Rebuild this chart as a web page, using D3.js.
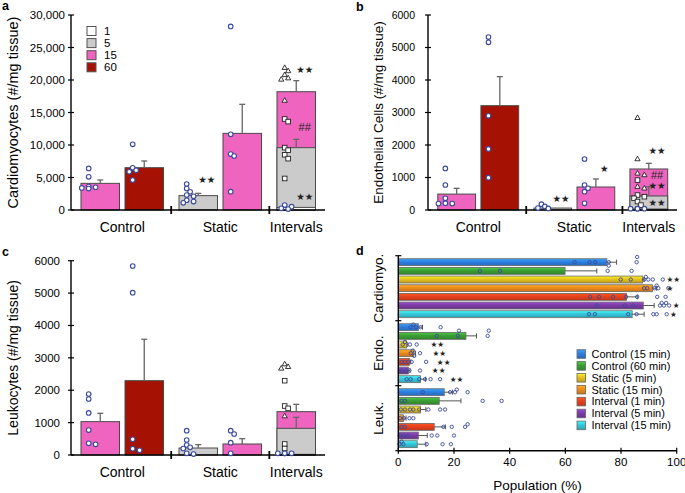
<!DOCTYPE html>
<html><head><meta charset="utf-8">
<script src="https://cdn.jsdelivr.net/npm/d3@7"></script>
<style>body{margin:0;background:#fff}svg{display:block}</style>
</head><body><svg id="chart" width="685" height="493"></svg>
<script>
// ---------------- DATA ----------------
const groups = ["Control", "Static", "Intervals"];
const durationLabels = ["1", "5", "15", "60"];
const barGroup = ["Control", "Control", "Static", "Static", "Intervals", "Intervals", "Intervals"];
const barDuration = ["15", "60", "5", "15", "15", "5", "1"];

// panel a: cardiomyocytes
const cmTicks = [0, 5000, 10000, 15000, 20000, 25000, 30000];
const cmMean = [4100, 6510, 2210, 11790, 18200, 9590, 400];
const cmUpper = [4620, 7540, 2560, 16260, 19900, 10870, 400];
const cmPoints = [
  [6400, 5100, 3600, 3400, 3300, 3500],
  [10100, 6500, 6100, 5900, 4600],
  [4000, 3300, 2800, 2300, 2100, 1500, 1100, 1300],
  [28250, 11640, 8610, 8310, 2820],
  [21900, 21400, 20800, 20300, 20100, 16850],
  [14000, 13600, 9600, 9200, 8500, 7900, 4850],
  [770, 510, 260, 150]
];
const cmMarkBar = [2, 4, 4, 4];
const cmMarkText = ["★★", "★★", "##", "★★"];
const cmMarkValue = [4700, 21600, 12800, 2050];

// panel b: endothelial cells
const ecTicks = [0, 1000, 2000, 3000, 4000, 5000, 6000];
const ecMean = [490, 3210, 60, 708, 1262, 431, 30];
const ecUpper = [667, 4103, 60, 954, 1436, 718, 30];
const ecPoints = [
  [1280, 770, 360, 210, 200, 200],
  [5320, 5160, 2900, 1880, 995],
  [180, 110, 60, 50],
  [1570, 770, 670, 565, 205],
  [2840, 1570, 1130, 1080, 720, 670],
  [920, 460, 410, 360, 260, 150],
  [40, 40, 40, 40]
];
const ecMarkBar = [2, 3, 4, 4, 4, 4];
const ecMarkText = ["★★", "★", "★★", "##", "★★", "★★"];
const ecMarkValue = [360, 1280, 1815, 1077, 738, 215];

// panel c: leukocytes
const lkTicks = [0, 1000, 2000, 3000, 4000, 5000, 6000];
const lkMean = [1030, 2295, 216, 340, 1338, 823, 20];
const lkUpper = [1287, 3573, 320, 504, 1565, 1163, 20];
const lkPoints = [
  [1880, 1730, 1300, 770, 360, 330],
  [5836, 5013, 484, 195, 144],
  [751, 463, 309, 237, 200, 51, 30],
  [751, 648, 380, 51],
  [2810, 2727, 2676, 1204],
  [2295, 1513, 1440, 340, 200],
  [51, 51, 51, 51]
];

// panel d: population (%)
const popGroups = ["Cardiomyo.", "Endo.", "Leuk."];
const popSeries = ["Control (15 min)", "Control (60 min)", "Static (5 min)", "Static (15 min)",
  "Interval (1 min)", "Interval (5 min)", "Interval (15 min)"];
const popColors = ["#2d7fdf", "#3b9f34", "#e6c01d", "#ef8a1b", "#e6421b", "#7b3ca6", "#35c6da"];
const popTicks = [0, 20, 40, 60, 80, 100];
const cardioMean = [74.9, 59.9, 87.8, 91.3, 82.0, 88.0, 84.0];
const cardioUpper = [78.4, 71.3, 88.3, 92.8, 86.0, 91.9, 88.3];
const cardioPoints = [
  [63.3, 68.7, 70.7, 75.6, 85.6, 85.8],
  [29.3, 36.6, 75.2, 75.6, 83.8],
  [79.9, 83.5, 88.3, 88.9, 89.8, 91.4, 95.0],
  [88.3, 89.4, 92.0, 92.8, 93.4, 97.0],
  [68.9, 72.1, 77.2, 81.8, 85.8, 93.0, 96.0],
  [71.3, 81.4, 84.4, 94.0, 94.6, 95.4, 96.2, 97.3],
  [68.5, 70.6, 82.6, 85.6, 91.6, 92.8, 96.4]
];
const endoMean = [7.2, 24.3, 3.0, 5.6, 4.0, 3.6, 8.0];
const endoUpper = [8.7, 28.1, 3.4, 6.2, 4.5, 4.2, 9.8];
const endoPoints = [
  [4.4, 5.4, 6.4, 8.0, 15.2],
  [13.8, 21.4, 21.8, 32.1, 32.5],
  [1.6, 2.4, 4.2, 6.6],
  [4.5, 5.2, 5.7, 7.8],
  [1.2, 2.4, 3.6, 4.8, 10.0],
  [1.2, 2.8, 4.0, 7.8],
  [3.0, 4.4, 7.5, 9.6, 11.6, 15.0]
];
const leukMean = [16.5, 14.7, 8.0, 1.8, 12.9, 7.2, 6.8];
const leukUpper = [19.5, 22.5, 9.9, 2.8, 16.9, 10.4, 9.9];
const leukPoints = [
  [8.8, 18.6, 20.4, 21.0, 24.9],
  [1.2, 2.4, 30.3, 37.1],
  [0.9, 2.4, 4.2, 5.4, 7.5, 10.8, 15.0, 16.8],
  [0.6, 2.0, 4.0, 5.4],
  [1.2, 2.4, 16.2, 19.2, 24.0, 24.9],
  [0.6, 2.0, 3.5, 12.0, 14.0, 20.0],
  [0.4, 1.2, 1.8, 10.2, 15.9, 18.9]
];
const popMarkGroup = ["Cardiomyo.", "Cardiomyo.", "Cardiomyo.", "Cardiomyo.", "Endo.", "Endo.", "Endo.", "Endo.", "Endo."];
const popMarkSeries = [2, 3, 5, 6, 2, 3, 4, 5, 6];
const popMarkText = ["★★", "★", "★", "★", "★★", "★★", "★★", "★★", "★★"];
const popMarkValue = [98.8, 97.6, 99.8, 98.8, 14.0, 14.7, 16.3, 14.5, 20.9];

// ---------------- DRAWING ----------------
const FONT = '"Liberation Sans", Arial, Helvetica, sans-serif';
const STARFONT = '"DejaVu Sans", sans-serif';
const durationColor = {"1": "#ffffff", "5": "#cbcbcb", "15": "#ee64bf", "60": "#a51204"};
const DOT = "#3a4a9c";
const svg = d3.select("#chart");

function panelLabel(t, x, y) {
  svg.append("text").attr("x", x).attr("y", y).text(t)
    .attr("font-family", FONT).attr("font-weight", "bold").attr("font-size", 12.5);
}

function drawBarPanel(c) {
  const g = svg.append("g");
  const y = d3.scaleLinear().domain([0, c.ticks[c.ticks.length - 1]]).range([c.bottom, c.top]);
  const x = d3.scaleLinear().domain([-0.227, 5.545]).range([c.left, c.right]);
  const bw = x(0.875) - x(0);
  const slotKeys = barGroup.map((gr, i) => gr === "Intervals" ? gr : gr + "|" + barDuration[i]);
  const uniq = [...new Set(slotKeys)];
  const kOf = i => uniq.indexOf(slotKeys[i]) + groups.indexOf(barGroup[i]) * 0.227;

  // bars
  barGroup.forEach((gr, i) => {
    g.append("rect").attr("x", x(kOf(i))).attr("y", y(c.mean[i]))
      .attr("width", bw).attr("height", y(0) - y(c.mean[i]))
      .attr("fill", durationColor[barDuration[i]]).attr("stroke", "#4a4a4a").attr("stroke-width", 1);
  });
  // error bars
  barGroup.forEach((gr, i) => {
    if (c.upper[i] <= c.mean[i]) return;
    const cx = x(kOf(i)) + bw / 2;
    g.append("line").attr("x1", cx).attr("x2", cx).attr("y1", y(c.mean[i])).attr("y2", y(c.upper[i]))
      .attr("stroke", "#666").attr("stroke-width", 1.3);
    g.append("line").attr("x1", cx - 3).attr("x2", cx + 3).attr("y1", y(c.upper[i])).attr("y2", y(c.upper[i]))
      .attr("stroke", "#666").attr("stroke-width", 1.3);
  });
  // axes
  g.append("line").attr("x1", c.left).attr("x2", c.left).attr("y1", c.top).attr("y2", c.bottom)
    .attr("stroke", "#000").attr("stroke-width", 1.4);
  c.ticks.forEach(t => {
    g.append("line").attr("x1", c.left - 3).attr("x2", c.left + 3).attr("y1", y(t)).attr("y2", y(t))
      .attr("stroke", "#000").attr("stroke-width", 1.2);
    g.append("text").attr("x", c.left - c.tickGap).attr("y", y(t)).attr("dy", "0.35em")
      .attr("text-anchor", "end").attr("font-family", FONT).attr("font-size", c.tickSize)
      .text(c.fmt(t));
  });
  g.append("line").attr("x1", c.left).attr("x2", c.right).attr("y1", c.bottom).attr("y2", c.bottom)
    .attr("stroke", "#000").attr("stroke-width", 1.4);
  [2.05, 4.28].forEach(k => {
    g.append("line").attr("x1", x(k)).attr("x2", x(k)).attr("y1", c.bottom - 4).attr("y2", c.bottom + 4)
      .attr("stroke", "#000").attr("stroke-width", 1.8);
  });
  groups.forEach(gr => {
    const idx = barGroup.map((b, i) => b === gr ? i : -1).filter(i => i >= 0);
    const k0 = d3.min(idx, kOf), k1 = d3.max(idx, kOf) + 0.875;
    g.append("text").attr("x", (x(k0) + x(k1)) / 2).attr("y", c.bottom + 22)
      .attr("text-anchor", "middle").attr("font-family", FONT).attr("font-size", 14).text(gr);
  });
  // y title
  g.append("text").attr("transform", `translate(${c.titleX},${(c.top + c.bottom) / 2}) rotate(-90)`)
    .attr("text-anchor", "middle").attr("dy", "0.35em").attr("font-family", FONT)
    .attr("font-size", c.titleSize).text(c.title);

  // points (simple beeswarm per slot)
  const r = 2.3;
  uniq.forEach(sk => {
    const idx = slotKeys.map((s, i) => s === sk ? i : -1).filter(i => i >= 0);
    const baseX = x(d3.min(idx, kOf)) + bw * 0.2;
    const placed = [];
    const pts = [];
    idx.forEach(i => c.points[i].forEach(v => pts.push({v, i})));
    pts.sort((a, b) => b.v - a.v);
    pts.forEach(p => {
      const cy = y(p.v);
      const offs = [0, 1, -1, 2, -2, 3, -3];
      let cx = baseX;
      for (const o of offs) {
        const tx = baseX + o * r * 1.5;
        if (placed.every(q => Math.hypot(q.x - tx, q.y - cy) >= r * 1.7)) { cx = tx; break; }
      }
      placed.push({x: cx, y: cy});
      const shape = barGroup[p.i] === "Intervals" ? barDuration[p.i] : "c";
      if (shape === "15") {
        g.append("path").attr("d", `M${cx},${cy - 2.8}L${cx + 2.6},${cy + 1.8}L${cx - 2.6},${cy + 1.8}Z`)
          .attr("fill", "#fff").attr("stroke", "#222").attr("stroke-width", 0.9);
      } else if (shape === "5") {
        g.append("rect").attr("x", cx - 2.3).attr("y", cy - 2.3).attr("width", 4.6).attr("height", 4.6)
          .attr("fill", "#fff").attr("stroke", "#222").attr("stroke-width", 0.9);
      } else {
        g.append("circle").attr("cx", cx).attr("cy", cy).attr("r", r)
          .attr("fill", "#fff").attr("stroke", DOT).attr("stroke-width", 1.1);
      }
    });
  });
  // significance marks
  (c.markBar || []).forEach((b, j) => {
    const isHash = c.markText[j] === "##";
    g.append("text").attr("x", x(kOf(b)) + bw * 0.72).attr("y", y(c.markValue[j])).attr("dy", "0.35em")
      .attr("text-anchor", "middle").attr("font-family", isHash ? FONT : STARFONT)
      .attr("font-size", isHash ? 11 : 9.5).attr("fill", "#222").text(c.markText[j]);
  });
  // legend
  if (c.legend) {
    durationLabels.forEach((d, j) => {
      const cy = 31 + j * 12.1;
      g.append("rect").attr("x", 87).attr("y", cy - 4.5).attr("width", 9).attr("height", 9)
        .attr("fill", durationColor[d]).attr("stroke", "#555").attr("stroke-width", 1);
      g.append("text").attr("x", 104).attr("y", cy).attr("dy", "0.35em").attr("font-family", FONT)
        .attr("font-size", 11.5).text(d);
    });
  }
}

const fmtComma = d3.format(",");
const fmtPlain = d3.format("d");
drawBarPanel({left: 71, right: 325, top: 15, bottom: 210, ticks: cmTicks, fmt: fmtComma, tickGap: 6, tickSize: 11.5,
  mean: cmMean, upper: cmUpper, points: cmPoints, markBar: cmMarkBar, markText: cmMarkText, markValue: cmMarkValue,
  title: "Cardiomyocytes (#/mg tissue)", titleX: 13, titleSize: 14.5, legend: true});
drawBarPanel({left: 428, right: 677, top: 15, bottom: 210, ticks: ecTicks, fmt: fmtPlain, tickGap: 13, tickSize: 10.5,
  mean: ecMean, upper: ecUpper, points: ecPoints, markBar: ecMarkBar, markText: ecMarkText, markValue: ecMarkValue,
  title: "Endothelial Cells (#/mg tissue)", titleX: 378, titleSize: 13.5});
drawBarPanel({left: 71, right: 325, top: 260.7, bottom: 455, ticks: lkTicks, fmt: fmtPlain, tickGap: 11, tickSize: 11.5,
  mean: lkMean, upper: lkUpper, points: lkPoints,
  title: "Leukocytes (#/mg tissue)", titleX: 13, titleSize: 14});

// ---------- panel d ----------
(function () {
  const L = 398.3, R = 676.7, T = 255.7, B = 450.7;
  const g = svg.append("g");
  const defs = svg.append("defs");
  popColors.forEach((col, i) => {
    const lg = defs.append("linearGradient").attr("id", "grad" + i).attr("x1", 0).attr("x2", 0).attr("y1", 0).attr("y2", 1);
    lg.append("stop").attr("offset", "0%").attr("stop-color", d3.color(col).brighter(0.7));
    lg.append("stop").attr("offset", "45%").attr("stop-color", col);
    lg.append("stop").attr("offset", "100%").attr("stop-color", d3.color(col).darker(0.5));
  });
  const x = d3.scaleLinear().domain([0, 100]).range([L, R]);
  const gy = d3.scaleBand().domain(popGroups).range([T, B]);
  const sy = d3.scaleBand().domain(popSeries).range([0, gy.bandwidth()]).paddingInner(0.2).paddingOuter(0.35);
  const means = [cardioMean, endoMean, leukMean];
  const uppers = [cardioUpper, endoUpper, leukUpper];
  const points = [cardioPoints, endoPoints, leukPoints];

  popGroups.forEach((grp, gi) => {
    popSeries.forEach((s, si) => {
      const top = gy(grp) + sy(s), h = sy.bandwidth(), cy = top + h / 2;
      g.append("rect").attr("x", x(0)).attr("y", top).attr("width", x(means[gi][si]) - x(0)).attr("height", h)
        .attr("fill", `url(#grad${si})`).attr("stroke", "#6a6a6a").attr("stroke-width", 0.8);
      const u = uppers[gi][si];
      if (u > means[gi][si]) {
        g.append("line").attr("x1", x(means[gi][si])).attr("x2", x(u)).attr("y1", cy).attr("y2", cy)
          .attr("stroke", "#555").attr("stroke-width", 1);
        g.append("line").attr("x1", x(u)).attr("x2", x(u)).attr("y1", cy - 2.5).attr("y2", cy + 2.5)
          .attr("stroke", "#555").attr("stroke-width", 1);
      }
    });
  });
  // points
  const r = 1.7;
  popGroups.forEach((grp, gi) => {
    popSeries.forEach((s, si) => {
      const cy0 = gy(grp) + sy(s) + sy.bandwidth() / 2;
      const placed = [];
      points[gi][si].forEach(v => {
        const cx = x(v);
        let cy = cy0;
        for (const o of [0, -1, 1, -2, 2]) {
          const ty = cy0 + o * 2.6;
          if (placed.every(q => Math.hypot(q.x - cx, q.y - ty) >= r * 1.8)) { cy = ty; break; }
        }
        placed.push({x: cx, y: cy});
        g.append("circle").attr("cx", cx).attr("cy", cy).attr("r", r)
          .attr("fill", "none").attr("stroke", DOT).attr("stroke-width", 0.9);
      });
    });
  });
  // marks
  popMarkGroup.forEach((grp, j) => {
    const cy = gy(grp) + sy(popSeries[popMarkSeries[j]]) + sy.bandwidth() / 2;
    g.append("text").attr("x", x(popMarkValue[j])).attr("y", cy).attr("dy", "0.35em")
      .attr("text-anchor", "middle").attr("font-family", STARFONT).attr("font-size", 7.6)
      .attr("fill", "#222").text(popMarkText[j]);
  });
  // axes
  g.append("line").attr("x1", L).attr("x2", L).attr("y1", T).attr("y2", B).attr("stroke", "#000").attr("stroke-width", 1.4);
  [T, ...popGroups.map(p => gy(p) + gy.bandwidth())].forEach(yy => {
    g.append("line").attr("x1", L - 3).attr("x2", L + 3).attr("y1", yy).attr("y2", yy).attr("stroke", "#000").attr("stroke-width", 1.2);
  });
  g.append("line").attr("x1", L).attr("x2", R).attr("y1", B).attr("y2", B).attr("stroke", "#000").attr("stroke-width", 1.4);
  popTicks.forEach(t => {
    g.append("line").attr("x1", x(t)).attr("x2", x(t)).attr("y1", B - 3).attr("y2", B + 3).attr("stroke", "#000").attr("stroke-width", 1.2);
    g.append("text").attr("x", x(t)).attr("y", B + 15).attr("text-anchor", "middle")
      .attr("font-family", FONT).attr("font-size", 11.5).text(t);
  });
  g.append("text").attr("x", (L + R) / 2).attr("y", 490).attr("text-anchor", "middle")
    .attr("font-family", FONT).attr("font-size", 13.5).text("Population (%)");
  popGroups.forEach(p => {
    g.append("text").attr("transform", `translate(378.5,${gy(p) + gy.bandwidth() / 2}) rotate(-90)`)
      .attr("text-anchor", "middle").attr("dy", "0.35em").attr("font-family", FONT).attr("font-size", 13.5).text(p);
  });
  // legend
  popSeries.forEach((s, i) => {
    const cy = 354 + i * 11.9;
    g.append("rect").attr("x", 577).attr("y", cy - 4.3).attr("width", 8.6).attr("height", 8.6)
      .attr("fill", `url(#grad${i})`).attr("stroke", "#666").attr("stroke-width", 0.8);
    g.append("text").attr("x", 591.5).attr("y", cy).attr("dy", "0.35em").attr("font-family", FONT)
      .attr("font-size", 11).text(s);
  });
})();

panelLabel("a", 2, 10);
panelLabel("b", 356, 10.5);
panelLabel("c", 2, 256);
panelLabel("d", 356, 255);
</script></body></html>
